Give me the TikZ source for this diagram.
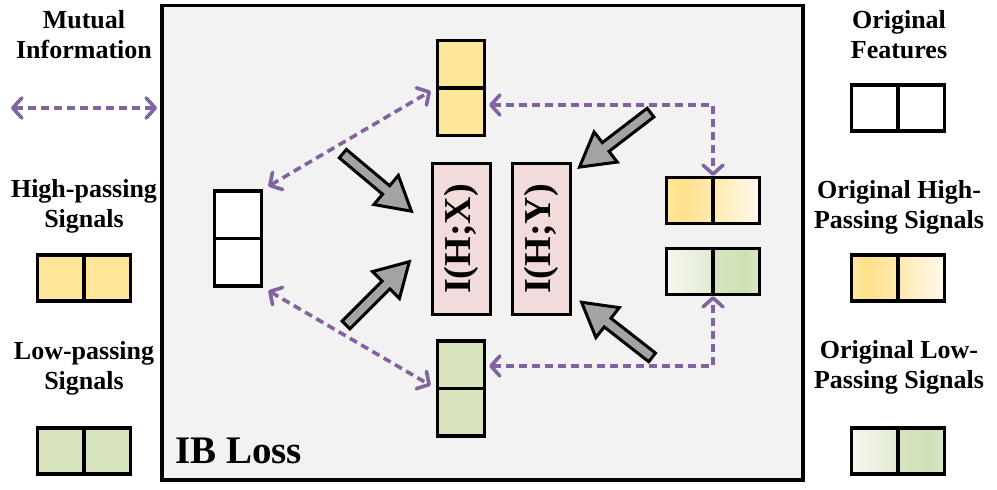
\documentclass[tikz,border=0pt]{standalone}
\usepackage{fontspec}
\setmainfont{Liberation Serif}
\usetikzlibrary{arrows.meta}
\definecolor{bgc}{HTML}{F2F2F2}
\definecolor{yelc}{HTML}{FFE699}
\definecolor{grnc}{HTML}{D7E4BD}
\definecolor{pinkc}{HTML}{F2DCDB}
\definecolor{purp}{HTML}{8064A2}
\definecolor{arrg}{HTML}{A3A3A3}
\definecolor{ysA}{HTML}{FFE7A3}
\definecolor{ysB}{HTML}{FFE08A}
\definecolor{ysC}{HTML}{FFEAAE}
\definecolor{ysD}{HTML}{FFF9EE}
\definecolor{gsA}{HTML}{F5F8EE}
\definecolor{gsB}{HTML}{E1EBD2}
\definecolor{gsC}{HTML}{D6E4C0}
\definecolor{gsD}{HTML}{CFE0B6}
\definecolor{gsE}{HTML}{DCE8CB}
\pgfdeclarehorizontalshading{yelshade}{100bp}{color(0bp)=(ysA); color(25bp)=(ysA); color(33bp)=(ysB); color(50bp)=(ysC); color(75bp)=(ysD); color(100bp)=(ysD)}
\pgfdeclarehorizontalshading{grnshade}{100bp}{color(0bp)=(gsA); color(25bp)=(gsA); color(49bp)=(gsB); color(51bp)=(gsC); color(67bp)=(gsD); color(75bp)=(gsE); color(100bp)=(gsE)}
\newcommand\myblockarrow[3]{%
  \begin{scope}[shift={(#1,#2)}, rotate=#3]
    \draw[blk] (1.5,-5.5) -- (58,-5.5) -- (58,-19) -- (91,0) -- (58,19) -- (58,5.5) -- (1.5,5.5) -- cycle;
  \end{scope}}
\begin{document}
\begin{tikzpicture}[x=1pt,y=-1pt,
  tall/.style={draw=black, line width=3.2pt, minimum width=47pt, minimum height=95pt, inner sep=0pt},
  wide/.style={draw=black, line width=3.2pt, minimum width=93pt, minimum height=46pt, inner sep=0pt},
  ibox/.style={draw=black, line width=3pt, fill=pinkc, minimum width=151pt, minimum height=58pt, inner sep=0pt, rotate=90, font=\bfseries\fontsize{38}{40}\selectfont},
  lbl/.style={font=\bfseries\fontsize{26}{30}\selectfont, align=center, anchor=base, inner sep=0pt},
  divline/.style={draw=black, line width=3.2pt},
  mi/.style={draw=purp, line width=3.6pt, dash pattern=on 8pt off 5pt,
     {Straight Barb[length=9pt,width=20pt,round]}-{Straight Barb[length=9pt,width=20pt,round]}},
  blk/.style={draw=black, line width=3pt, fill=arrg, line join=miter},
]
\useasboundingbox (0,0) rectangle (997,490);
\fill[white] (0,0) rectangle (997,490);

% main box
\node[draw=black, line width=3.5pt, fill=bgc, minimum width=641pt, minimum height=474.5pt, inner sep=0pt] (ib) at (482.5,242.75) {};
\node[font=\bfseries\fontsize{39}{42}\selectfont, anchor=base west, inner sep=0pt] (ibl) at (175,463) {IB Loss};

% left legend
\node[lbl] (t1) at (84,58) {Mutual\\Information};
\coordinate (ma) at (11,108);
\coordinate (mb) at (157,108);
\draw[mi] (ma) -- (mb);
\node[lbl] (t2) at (84,227) {High-passing\\Signals};
\node[wide, fill=yelc] (ly) at (84,278) {};
\draw[divline] (ly.north) -- (ly.south);
\node[lbl] (t3) at (84,389) {Low-passing\\Signals};
\node[wide, fill=grnc] (lg) at (84,451) {};
\draw[divline] (lg.north) -- (lg.south);

% right legend
\node[lbl] (r1) at (899,58) {Original\\Features};
\node[wide, fill=white] (rw) at (898,108) {};
\draw[divline] (rw.north) -- (rw.south);
\node[lbl] (r2) at (899,228) {Original High-\\Passing Signals};
\node[wide, shading=yelshade] (rys) at (898,278) {};
\draw[divline] (rys.north) -- (rys.south);
\node[lbl] (r3) at (899,388) {Original Low-\\Passing Signals};
\node[wide, shading=grnshade] (rgs) at (898,451) {};
\draw[divline] (rgs.north) -- (rgs.south);

% center boxes
\node[tall, fill=white] (wb) at (238,238.5) {};
\draw[divline] (wb.west) -- (wb.east);
\node[tall, fill=yelc] (yt) at (461,88) {};
\draw[divline] (yt.west) -- (yt.east);
\node[tall, fill=grnc] (gb) at (461,388.5) {};
\draw[divline] (gb.west) -- (gb.east);

\node[ibox] (ix) at (461.5,239) {I(H;X)};
\node[ibox] (iy) at (541,239) {I(H;Y)};

\node[wide, shading=yelshade] (ry) at (713,200.5) {};
\draw[divline] (ry.north) -- (ry.south);
\node[wide, shading=grnshade] (rg) at (713,271.5) {};
\draw[divline] (rg.north) -- (rg.south);

% mutual information connectors
\draw[mi, shorten <=6pt, shorten >=6pt] (wb.north east) -- (yt.west);
\draw[mi, shorten <=6pt, shorten >=6pt] (wb.south east) -- (gb.west);
\draw[mi, shorten <=3pt] ([yshift=-17pt]yt.east) -| (ry.north);
\draw[mi, shorten <=3pt] ([yshift=22.5pt]gb.east) -| (rg.south);

% block arrows
\myblockarrow{341.7}{152.7}{-40}
\myblockarrow{345}{326}{45}
\myblockarrow{651.7}{111.7}{217.5}
\myblockarrow{653.3}{358.3}{142}
\end{tikzpicture}
\end{document}
